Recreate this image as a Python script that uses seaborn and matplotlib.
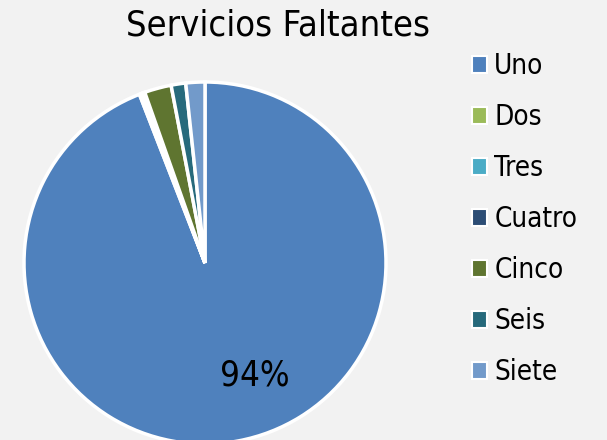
import matplotlib
matplotlib.use("Agg")
import matplotlib.pyplot as plt
import seaborn as sns
from matplotlib.patches import Patch

# datos
categorias = ['Uno', 'Dos', 'Tres', 'Cuatro', 'Cinco', 'Seis', 'Siete']
valores = [94.1, 0.2, 0.15, 0.15, 2.4, 1.3, 1.7]
colores = ['#4f81bd', '#9bbb59', '#4bacc6', '#2c4d75', '#5f7530', '#276a7c', '#729aca']

sns.set_theme(style='white')
plt.rcParams['font.family'] = ['DejaVu Sans']
plt.rcParams['text.color'] = 'black'

fig = plt.figure(figsize=(6.07, 4.4), dpi=100)
fig.patch.set_facecolor('#f2f2f2')

# eje del pie colocado para centro (205, 263) y radio 181 px
W, H = 607, 440
cx, cy, r = 205, 263, 181
ax = fig.add_axes([(cx - r) / W, (H - cy - r) / H, 2 * r / W, 2 * r / H])
ax.set_facecolor('#f2f2f2')

wedges, texts, autotexts = ax.pie(
    valores, colors=colores, startangle=90, counterclock=False,
    autopct=lambda p: '%.0f%%' % p if p > 50 else '',
    wedgeprops=dict(edgecolor='white', linewidth=2.5),
    textprops=dict(color='black'))
for w in wedges:
    w.set_clip_on(False)
ax.set_xlim(-1, 1)
ax.set_ylim(-1, 1)
ax.set_aspect('equal')

autotexts[0].set_position((0.276, -0.62))
autotexts[0].set_fontsize(25)
autotexts[0].set_fontstretch('condensed')

fig.text(278 / W, 1 - 25 / H, 'Servicios Faltantes', ha='center', va='center',
         fontsize=26, fontstretch='condensed', color='black')

handles = [Patch(facecolor=c, edgecolor='white', linewidth=1.5) for c in colores]
leg = fig.legend(handles, categorias, loc='upper left',
                 bbox_to_anchor=(472 / W, 1 - 52 / H), frameon=False,
                 borderpad=0, borderaxespad=0,
                 prop=dict(size=20, stretch='condensed'),
                 handlelength=0.55, handleheight=0.55,
                 handletextpad=0.25, labelspacing=0.83)
for t in leg.get_texts():
    t.set_color('black')

fig.savefig('out.png', dpi=100, facecolor=fig.get_facecolor())
